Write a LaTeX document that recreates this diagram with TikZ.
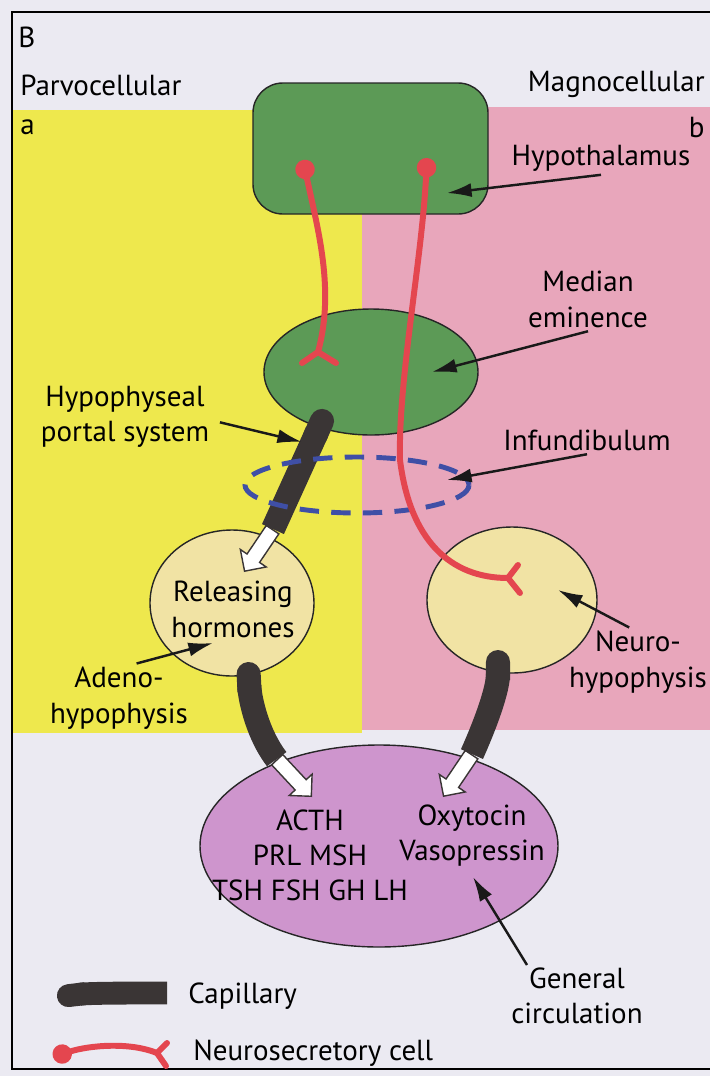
\documentclass[tikz,border=0pt]{standalone}
\usepackage{fontspec}
\setmainfont{PT Sans}
\usetikzlibrary{arrows.meta,calc,shapes.arrows}
\definecolor{paper}{HTML}{EBEAF2}
\definecolor{parvo}{HTML}{EEE84D}
\definecolor{magno}{HTML}{E8A6BB}
\definecolor{hypog}{HTML}{5C9A56}
\definecolor{gland}{HTML}{F1E3A4}
\definecolor{circv}{HTML}{CE95CD}
\definecolor{nred}{HTML}{E4464F}
\definecolor{capdark}{HTML}{3A3535}
\definecolor{infblue}{HTML}{3F4FA6}

\tikzset{
  lbl/.style={font=\fontsize{16.5}{20}\selectfont, text=black, inner sep=0pt, align=center},
  organ/.style={draw=black!85, line width=0.8pt},
  pointer/.style={-{Latex[length=14pt,width=8pt]}, line width=1.4pt, black!90},
  capillary/.style={draw=capdark, line width=13.7pt, line cap=butt, {Round Cap[]}-},
  neuron/.style={draw=nred, line width=3.4pt, line cap=round, {Circle[length=11pt]}-},
  fork/.style={draw=nred, line width=3.4pt, line cap=round},
  flowarrow/.style={single arrow, draw=capdark, fill=white, line width=0.8pt,
    minimum height=28.5pt, inner xsep=0pt, inner ysep=3.9pt,
    single arrow head extend=4.6pt, anchor=tip}
}

\begin{document}
\begin{tikzpicture}[x=0.2mm,y=-0.2mm]
  \useasboundingbox (0,0) rectangle (710,1076);
  \fill[paper] (0,0) rectangle (710,1076);

  % the two sides
  \fill[parvo] (13,110) rectangle (362,733);
  \fill[magno] (362,107) rectangle (710,730);
  \draw[line width=1.6pt] (716,12) -- (12,12) -- (12,1069) -- (716,1069);

  % organs
  \draw[organ, fill=hypog, rounded corners=17pt] (253,83) rectangle (488,214);
  \draw[organ, fill=hypog] (371,372) ellipse (107 and 63);
  \draw[organ, fill=gland] (232,603) ellipse (82 and 73);
  \draw[organ, fill=gland] (512,600) ellipse (85 and 73);
  \draw[organ, fill=circv] (379,846) ellipse (179 and 101);

  % hormone outflow
  \node[flowarrow, rotate=236] (relPortal) at (244,572) {};
  \node[flowarrow, rotate=-47] (relAdeno) at (312,797) {};
  \node[flowarrow, rotate=236] (relNeuro) at (443,797) {};
  \draw[capillary] (327,410) -- (relPortal.tail);
  \draw[capillary] (248,662) .. controls (250,700) and (258,735) .. (relAdeno.tail);
  \draw[capillary] (498,650) .. controls (498,690) and (485,725) .. (relNeuro.tail);

  % infundibulum
  \draw[infblue, line width=2.8pt, dash pattern=on 11pt off 7pt] (357,485) ellipse (112 and 28);

  % neurosecretory cells
  \draw[neuron] (303,160) .. controls (318,230) and (335,290) .. (318,352);
  \draw[fork] (302,363) -- (318,352) -- (336,363);
  \draw[neuron] (427,158) .. controls (422,260) and (398,380) .. (400,460)
    .. controls (410,540) and (450,578) .. (508,578);
  \draw[fork] (518,565) -- (508,578) -- (520,593);

  % headings
  \node[lbl, anchor=base west] (lblPanel) at (18,47) {B};
  \node[lbl, anchor=base west] (lblParvo) at (20,95) {Parvocellular};
  \node[lbl, anchor=base west] (lblA) at (20,134) {a};
  \node[lbl, anchor=base east] (lblMagno) at (705,91) {Magnocellular};
  \node[lbl, anchor=base east] (lblB) at (705,137) {b};

  % labels
  \node[lbl, anchor=base] (lblHypo) at (601,165) {Hypothalamus};
  \node[lbl, anchor=north] (lblMedian) at (588,271) {Median\\eminence};
  \node[lbl, anchor=base] (lblInfund) at (587,450) {Infundibulum};
  \node[lbl, anchor=north] (lblPortal) at (125,386) {Hypophyseal\\portal system};
  \node[lbl, anchor=north] (lblReleasing) at (233,581) {Releasing\\hormones};
  \node[lbl, anchor=north] (lblAdeno) at (119,667) {Adeno-\\hypophysis};
  \node[lbl, anchor=north] (lblNeuro) at (638,631) {Neuro-\\hypophysis};
  \node[lbl, anchor=north] (lblAnterior) at (310,809) {ACTH\\PRL MSH\\TSH FSH GH LH};
  \node[lbl, anchor=north] (lblPosterior) at (472,804) {Oxytocin\\Vasopressin};
  \node[lbl, anchor=north] (lblGeneral) at (577,967) {General\\circulation};

  % pointers
  \coordinate (inHypo) at (447,193);
  \coordinate (inMedian) at (432,372);
  \coordinate (inInfund) at (447,480);
  \coordinate (inPortal) at (302,442);
  \coordinate (inAdeno) at (213,643);
  \coordinate (inNeuro) at (558,590);
  \coordinate (inGeneral) at (473,877);
  \draw[pointer] ([yshift=-2pt]lblHypo.south) -- (inHypo);
  \draw[pointer] ([yshift=-2pt]lblMedian.south) -- (inMedian);
  \draw[pointer] ([yshift=-2pt]lblInfund.south) -- (inInfund);
  \draw[pointer] ([xshift=6pt,yshift=-3pt]lblPortal.east) -- (inPortal);
  \draw[pointer] ([xshift=10pt,yshift=2pt]lblAdeno.north) -- (inAdeno);
  \draw[pointer] ([xshift=-5pt,yshift=2pt]lblNeuro.north) -- (inNeuro);
  \draw[pointer] ($(lblGeneral.north west)+(16,-2)$) -- (inGeneral);

  % legend
  \coordinate (legCapEnd) at (167,993);
  \draw[capillary, line width=13pt] (57,997) .. controls (90,993) and (130,993) .. (legCapEnd);
  \node[lbl, anchor=base west] (lblCapillary) at (188,1003) {Capillary};
  \coordinate (legFork) at (157,1053);
  \draw[neuron] (53,1057) .. controls (90,1045) and (130,1042) .. (legFork);
  \draw[fork] (167,1043) -- (legFork) -- (166,1066);
  \node[lbl, anchor=base west] (lblNeurosec) at (193,1060) {Neurosecretory cell};
\end{tikzpicture}
\end{document}
